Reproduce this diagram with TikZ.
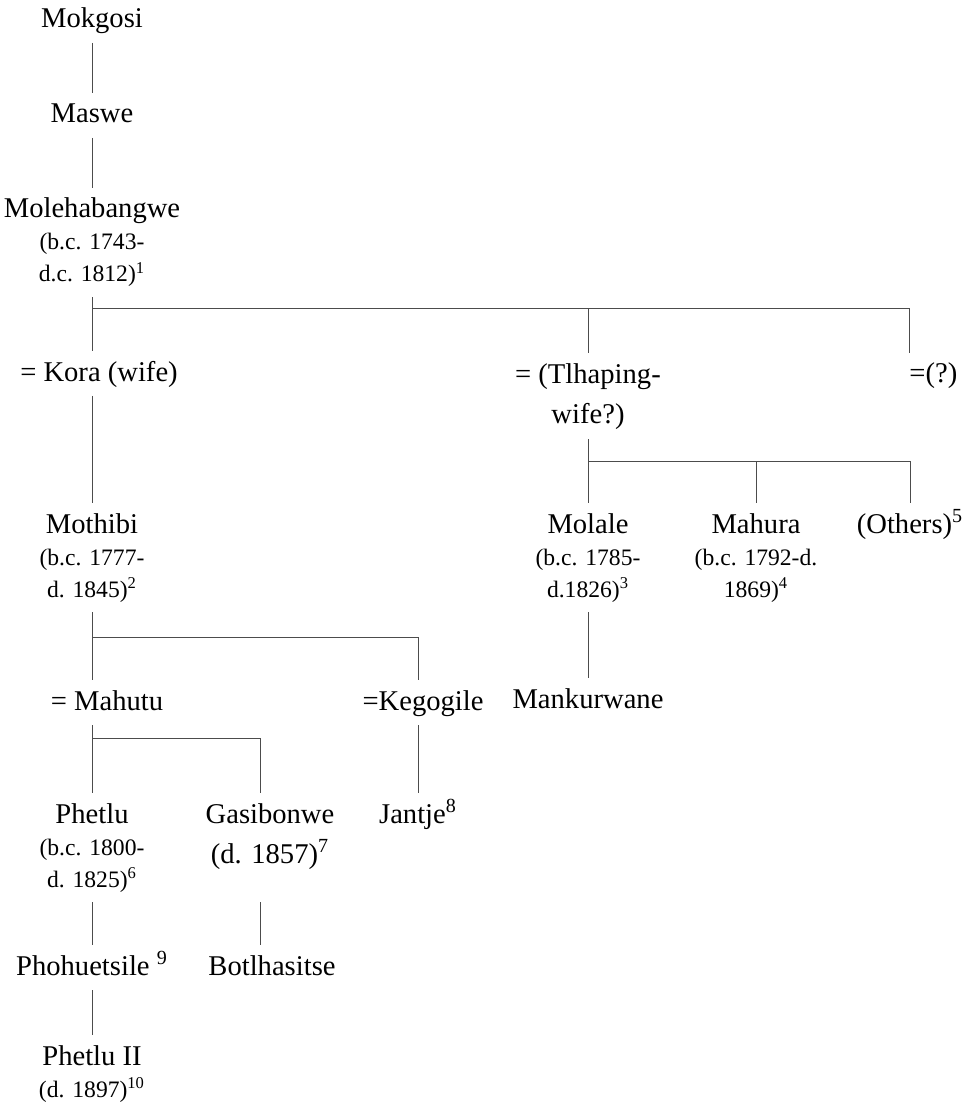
\documentclass[tikz,border=0pt]{standalone}
\usepackage{fontspec}
\setmainfont{Liberation Serif}
\newcommand{\namefont}{\fontsize{14.3}{16}\selectfont}
\newcommand{\datefont}{\fontsize{11.8}{16}\selectfont}
\newcommand{\capline}{\rule{0pt}{10pt}}

\begin{document}
\begin{tikzpicture}[x=0.5pt,y=-0.5pt,
  single/.style={align=center,inner sep=0pt,outer ysep=5pt,font=\namefont,text height=10pt,text depth=2.5pt,anchor=base},
  person/.style={align=center,inner sep=0pt,outer ysep=5pt,font=\namefont,anchor=north},
  link/.style={draw=black!70,line width=0.5pt}]
\useasboundingbox (0,0) rectangle (970,1106);

% single names sit on their baseline, longer entries hang from the line above
\node[single] (mokgosi) at (92,28) {Mokgosi};
\node[single] (maswe) at (92,123) {Maswe};
\node[person] (moleh) at (92,188) {\capline Molehabangwe\\{\datefont (b.c. 1743-}\\{\datefont d.c. 1812)\textsuperscript{1}}};
\node[single] (kora) at (99,381) {= Kora (wife)};
\node[person] (tlhap) at (588,353) {\capline = (Tlhaping-\\[4pt]wife?)};
\node[single,anchor=base west] (unknown) at (909,383) {=(?)};
\node[person] (mothibi) at (92,503) {\capline Mothibi\\{\datefont (b.c. 1777-}\\{\datefont d. 1845)\textsuperscript{2}}};
\node[person] (molale) at (588,503) {\capline Molale\\{\datefont (b.c. 1785-}\\{\datefont d.1826)\textsuperscript{3}}};
\node[person] (mahura) at (756,503) {\capline Mahura\\{\datefont (b.c. 1792-d.}\\{\datefont 1869)\textsuperscript{4}}};
\node[single] (others) at (910,533) {(Others)\textsuperscript{5}};
\node[single] (mahutu) at (107,710) {= Mahutu};
\node[single] (kegogile) at (423,710) {=Kegogile};
\node[single] (mankurwane) at (588,708) {Mankurwane};
\node[person] (phetlu) at (92,793) {\capline Phetlu\\{\datefont (b.c. 1800-}\\{\datefont d. 1825)\textsuperscript{6}}};
\node[person] (gasibonwe) at (270,793) {\capline Gasibonwe\\[4pt](d. 1857)\textsuperscript{7}};
\node[single] (jantje) at (418,823) {Jantje\textsuperscript{8}};
\node[single] (phohuetsile) at (92,975) {Phohuetsile \textsuperscript{9}};
\node[single] (botlhasitse) at (272,975) {Botlhasitse};
\node[person] (phetlu2) at (92,1035) {\capline Phetlu II\\{\datefont (d. 1897)\textsuperscript{10}}};

% lines of descent
\draw[link] (mokgosi.south) -- (maswe.north);
\draw[link] (maswe.south) -- (moleh.north);
\coordinate (fork1) at (92,309);
\draw[link] (moleh.south) -- (moleh.south |- kora.north);
\draw[link] (fork1) -| (tlhap.north);
\draw[link] (fork1) -| (unknown.north west);
\draw[link] (kora.south -| mothibi.north) -- (mothibi.north);

\coordinate (fork2) at (tlhap.south |- 0,461);
\draw[link] (tlhap.south) -- (tlhap.south |- molale.north);
\draw[link] (fork2) -| (mahura.north);
\draw[link] (fork2) -| (others.north);
\draw[link] (molale.south) -- (molale.south |- mankurwane.north);

\coordinate (fork3) at (92,637);
\draw[link] (mothibi.south) -- (mothibi.south |- mahutu.north);
\draw[link] (fork3) -| (jantje.north |- kegogile.north);
\draw[link] (kegogile.south -| jantje.north) -- (jantje.north);

\coordinate (fork4) at (92,738);
\draw[link] (mahutu.south -| phetlu.north) -- (phetlu.north);
\draw[link] (fork4) -| ([xshift=-5pt]gasibonwe.north);
\draw[link] ([xshift=-5pt]gasibonwe.north |- phetlu.south) -- ([xshift=-5pt]gasibonwe.north |- botlhasitse.north);
\draw[link] (phetlu.south) -- (phohuetsile.north);
\draw[link] (phohuetsile.south) -- (phetlu2.north);
\end{tikzpicture}
\end{document}
